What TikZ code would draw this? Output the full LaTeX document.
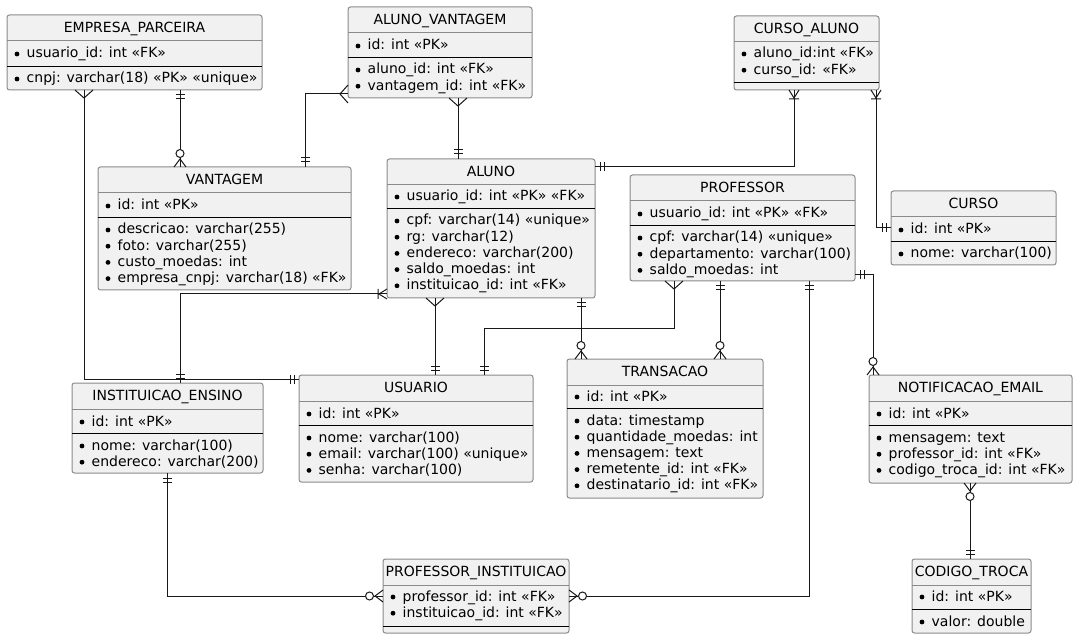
\documentclass[tikz,border=0pt]{standalone}
\usepackage{fontspec}
\setmainfont{DejaVu Sans}
\usepackage{tikz}
\definecolor{entfill}{HTML}{F1F1F1}
\definecolor{entline}{HTML}{8A8A8A}
\definecolor{relline}{HTML}{181818}
\tikzset{
  entbox/.style={rectangle,draw=entline,fill=entfill,line width=1,rounded corners=2.5,
    inner sep=0,outer sep=0,anchor=north west},
  enttitle/.style={font=\fontsize{14}{16.2}\selectfont,anchor=base,inner sep=0},
  entfield/.style={font=\fontsize{14}{16.2}\selectfont,anchor=base west,inner sep=0},
  rel/.style={draw=relline,line width=1},
  many/.pic={\draw[rel] (-9,0) -- (0,8) -- (9,0);},
  one/.pic={\draw[rel] (-4.5,5) -- (4.5,5) (-4.5,9) -- (4.5,9);},
  zmany/.pic={\draw[rel] (-6,0) -- (0,8) -- (6,0); \draw[rel,fill=white] (0,13.5) circle (4);},
  omany/.pic={\draw[rel] (-5,0) -- (0,8) -- (5,0) (-5,9) -- (5,9);}
}
% name, left, top, right, bottom, title
\newcommand\entity[6]{%
  \node[entbox,minimum width={#4-#2},minimum height={#5-#3}] (#1) at (#2,#3) {};
  \node[enttitle] at ({(#2+#4)/2},{#3+17.5}) {#6};
  \draw[entline,line width=1] (#2,{#3+26}) -- (#4,{#3+26});}
\newcommand\entsep[3]{\draw[black,line width=0.9] (#1,#3) -- (#2,#3);}
\newcommand\entfields[3]{%
  \foreach \fld [count=\i from 0] in {#3}{
    \fill ({#1+10},{#2+13+16.2*\i}) circle (2.4);
    \node[entfield] at ({#1+19.5},{#2+17+16.2*\i}) {\fld};
  }}

\begin{document}
\begin{tikzpicture}[x=1pt,y=-1pt]
\useasboundingbox (0,0) rectangle (1077,639);

\entity{ep}{7}{15}{262}{90}{EMPRESA\_PARCEIRA}
\entsep{7}{262}{66}
\entfields{7}{41}{usuario\_id: int «FK»}
\entfields{7}{66}{cnpj: varchar(18) «PK» «unique»}

\entity{av}{348}{7}{532}{98}{ALUNO\_VANTAGEM}
\entsep{348}{532}{57}
\entfields{348}{33}{id: int «PK»}
\entfields{348}{57}{aluno\_id: int «FK», vantagem\_id: int «FK»}

\entity{ca}{734}{16}{879}{90}{CURSO\_ALUNO}
\entsep{734}{879}{82}
\entfields{734}{41}{aluno\_id:int «FK», curso\_id: «FK»}

\entity{curso}{891}{191}{1056}{265}{CURSO}
\entsep{891}{1056}{241}
\entfields{891}{217}{id: int «PK»}
\entfields{891}{241}{nome: varchar(100)}

\entity{vant}{98}{167}{351}{290}{VANTAGEM}
\entsep{98}{351}{217}
\entfields{98}{193}{id: int «PK»}
\entfields{98}{217}{descricao: varchar(255), foto: varchar(255), custo\_moedas: int, empresa\_cnpj: varchar(18) «FK»}

\entity{aluno}{387}{159}{595}{298}{ALUNO}
\entsep{387}{595}{208}
\entfields{387}{184}{usuario\_id: int «PK» «FK»}
\entfields{387}{208}{cpf: varchar(14) «unique», rg: varchar(12), endereco: varchar(200), saldo\_moedas: int, instituicao\_id: int «FK»}

\entity{prof}{630}{175}{855}{281}{PROFESSOR}
\entsep{630}{855}{225}
\entfields{630}{201}{usuario\_id: int «PK» «FK»}
\entfields{630}{225}{cpf: varchar(14) «unique», departamento: varchar(100), saldo\_moedas: int}

\entity{inst}{72}{383}{263}{473}{INSTITUICAO\_ENSINO}
\entsep{72}{263}{433}
\entfields{72}{409}{id: int «PK»}
\entfields{72}{433}{nome: varchar(100), endereco: varchar(200)}

\entity{usuario}{299}{375}{533}{482}{USUARIO}
\entsep{299}{533}{425}
\entfields{299}{401}{id: int «PK»}
\entfields{299}{425}{nome: varchar(100), email: varchar(100) «unique», senha: varchar(100)}

\entity{trans}{567}{359}{763}{498}{TRANSACAO}
\entsep{567}{763}{408}
\entfields{567}{384}{id: int «PK»}
\entfields{567}{408}{data: timestamp, quantidade\_moedas: int, mensagem: text, remetente\_id: int «FK», destinatario\_id: int «FK»}

\entity{notif}{869}{375}{1072}{483}{NOTIFICACAO\_EMAIL}
\entsep{869}{1072}{425}
\entfields{869}{401}{id: int «PK»}
\entfields{869}{425}{mensagem: text, professor\_id: int «FK», codigo\_troca\_id: int «FK»}

\entity{pi}{383}{559}{569}{633}{PROFESSOR\_INSTITUICAO}
\entsep{383}{569}{626}
\entfields{383}{584}{professor\_id: int «FK», instituicao\_id: int «FK»}

\entity{ct}{912}{559}{1031}{633}{CODIGO\_TROCA}
\entsep{912}{1031}{609}
\entfields{912}{584}{id: int «PK»}
\entfields{912}{609}{valor: double}

% relationships
\draw[rel] (ep.south -| 84,0) |- (usuario.west |- 0,379);
\pic at (ep.south -| 84,0) {many};
\pic[rotate=-90] at (usuario.west |- 0,379) {one};

\draw[rel] (ep.south -| 180,0) -- (vant.north -| 180,0);
\pic at (ep.south -| 180,0) {one};
\pic[rotate=180] at (vant.north -| 180,0) {zmany};

\draw[rel] (av.west |- 0,94) -| (vant.north -| 305,0);
\pic[rotate=-90] at (av.west |- 0,94) {many};
\pic[rotate=180] at (vant.north -| 305,0) {one};

\draw[rel] (av.south -| 458,0) -- (aluno.north -| 458,0);
\pic at (av.south -| 458,0) {many};
\pic[rotate=180] at (aluno.north -| 458,0) {one};

\draw[rel] (ca.south -| 794,0) |- (aluno.east |- 0,167);
\pic at (ca.south -| 794,0) {omany};
\pic[rotate=90] at (aluno.east |- 0,167) {one};

\draw[rel] (ca.south -| 876,0) |- (curso.west |- 0,228);
\pic at (ca.south -| 876,0) {omany};
\pic[rotate=-90] at (curso.west |- 0,228) {one};

\draw[rel] (aluno.west |- 0,294) -| (inst.north -| 180,0);
\pic[rotate=-90] at (aluno.west |- 0,294) {omany};
\pic[rotate=180] at (inst.north -| 180,0) {one};

\draw[rel] (aluno.south -| 435,0) -- (usuario.north -| 435,0);
\pic at (aluno.south -| 435,0) {many};
\pic[rotate=180] at (usuario.north -| 435,0) {one};

\draw[rel] (prof.south -| 674,0) -- (674,328) -| (usuario.north -| 484,0);
\pic at (prof.south -| 674,0) {many};
\pic[rotate=180] at (usuario.north -| 484,0) {one};

\draw[rel] (aluno.south -| 581,0) -- (trans.north -| 581,0);
\pic at (aluno.south -| 581,0) {one};
\pic[rotate=180] at (trans.north -| 581,0) {zmany};

\draw[rel] (prof.south -| 720,0) -- (trans.north -| 720,0);
\pic at (prof.south -| 720,0) {one};
\pic[rotate=180] at (trans.north -| 720,0) {zmany};

\draw[rel] (prof.south -| 809,0) |- (pi.east |- 0,596);
\pic at (prof.south -| 809,0) {one};
\pic[rotate=90] at (pi.east |- 0,596) {zmany};

\draw[rel] (inst.south -| 167,0) |- (pi.west |- 0,596);
\pic at (inst.south -| 167,0) {one};
\pic[rotate=-90] at (pi.west |- 0,596) {zmany};

\draw[rel] (prof.east |- 0,275) -| (notif.north -| 873,0);
\pic[rotate=90] at (prof.east |- 0,275) {one};
\pic[rotate=180] at (notif.north -| 873,0) {zmany};

\draw[rel] (notif.south -| 970,0) -- (ct.north -| 970,0);
\pic at (notif.south -| 970,0) {zmany};
\pic[rotate=180] at (ct.north -| 970,0) {one};
\end{tikzpicture}
\end{document}
